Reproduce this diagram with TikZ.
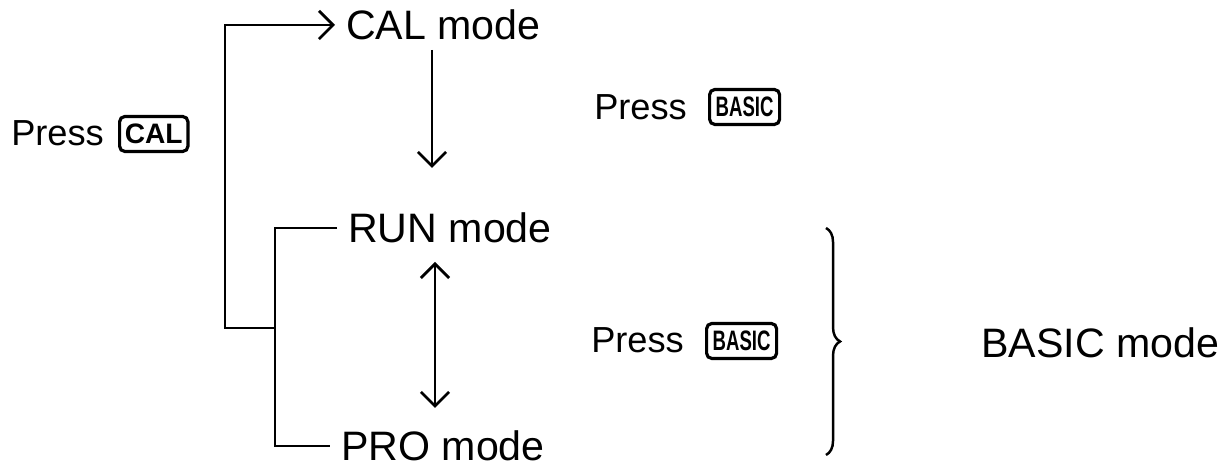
\documentclass[tikz,border=0pt]{standalone}
\usepackage{fontspec}
\setmainfont{Liberation Sans}
\usepackage{graphicx}
\usetikzlibrary{arrows.meta, decorations.pathreplacing}
\tikzset{
  lbl/.style={inner sep=3pt, anchor=west, font=\fontsize{11.7}{14}\selectfont},
  presslbl/.style={lbl, font=\fontsize{10.3}{12}\selectfont},
  keycap/.style={draw, line width=0.9pt, rounded corners=1.5pt, anchor=west, inner xsep=1.5pt, inner ysep=0pt, minimum height=0.35cm, font=\fontsize{8}{9}\selectfont\bfseries},
  barb/.tip={Straight Barb[length=4pt,width=8pt,line width=0.8pt]},
  arr/.style={line width=0.7pt, -barb},
  arrboth/.style={line width=0.7pt, barb-barb},
}
\begin{document}
\begin{tikzpicture}[x=0.01cm,y=-0.01cm]
     \useasboundingbox (0,0) rectangle (1224,468);
     % modes
     \node[lbl] (cal) at (335,25) {CAL mode};
     \node[lbl] (run) at (337,228) {RUN mode};
     \node[lbl] (pro) at (330,446) {PRO mode};
     \node[lbl] (basic) at (970,343) {BASIC mode};
     % key presses
     \node[presslbl] (press1) at (0,133) {Press};
     \node[keycap, minimum width=0.59cm] (kcal) at (118,134) {CAL};
     \node[presslbl] (press2) at (583,107) {Press};
     \node[keycap, minimum width=0.7cm] (kbas1) at (708,107) {\scalebox{0.66}[1]{BASIC}};
     \node[presslbl] (press3) at (580,340) {Press};
     \node[keycap, minimum width=0.7cm] (kbas2) at (705,341) {\scalebox{0.66}[1]{BASIC}};

     \coordinate (j0) at (225,328);
     \coordinate (j1) at (275,328);
     \draw[arr] (j1) -- (j0) |- (cal.west);%back to CAL
     \draw[line width=0.7pt] (run.west) -| (j1) |- (pro.west);

     \coordinate (d1) at (432,50);
     \coordinate (d2) at (432,168);
     \draw[arr] (d1) -- (d2);
     \coordinate (u1) at (435,262);
     \coordinate (u2) at (435,408);
     \draw[arrboth] (u1) -- (u2);

     \coordinate (b1) at (826,228);
     \coordinate (b2) at (826,455);
     \draw[line width=0.7pt, decorate, decoration={brace, amplitude=4pt}] (b1) -- (b2);
    \end{tikzpicture}
\end{document}
